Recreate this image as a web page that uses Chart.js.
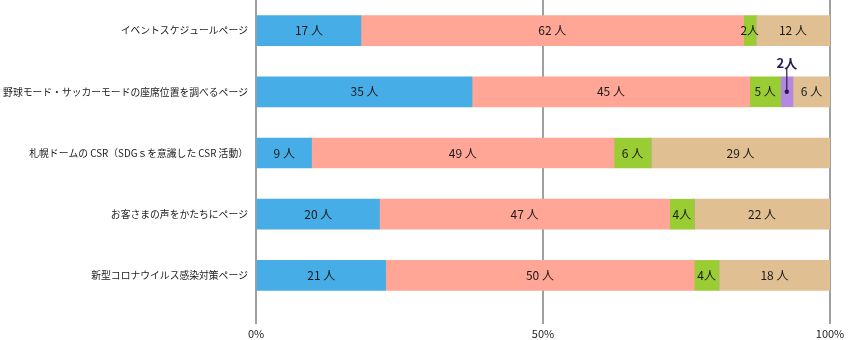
<!DOCTYPE html>
<html lang="ja">
<head>
<meta charset="utf-8">
<script src="https://cdn.jsdelivr.net/npm/chart.js@4"></script>
<style>
  html, body { margin: 0; padding: 0; background: #fff; }
  #wrap { width: 848px; height: 340px; }
</style>
</head>
<body>
<div id="wrap"><canvas id="chart"></canvas></div>
<script>
"use strict";

const PAGES = [
  "イベントスケジュールページ",
  "野球モード・サッカーモードの座席位置を調べるページ",
  "札幌ドームの CSR（SDGｓを意識した CSR 活動）",
  "お客さまの声をかたちにページ",
  "新型コロナウイルス感染対策ページ",
];

// respondent counts per segment, per page
const SEG_A = [17, 35, 9, 20, 21];
const SEG_B = [62, 45, 49, 47, 50];
const SEG_C = [2, 5, 6, 4, 4];
const SEG_D = [0, 2, 0, 0, 0];
const SEG_E = [12, 6, 29, 22, 18];

const X_TICKS = [0, 50, 100];

const COLORS = ["#46ade6", "#ffa696", "#9acc33", "#b388e0", "#e0c092"];
const FONT = "'Noto Sans CJK JP', 'Noto Sans', sans-serif";

const counts = [SEG_A, SEG_B, SEG_C, SEG_D, SEG_E];
const totals = PAGES.map((_, i) => counts.reduce((s, arr) => s + arr[i], 0));

const datasets = counts.map((arr, k) => ({
  data: arr.map((v, i) => v / totals[i] * 100),
  counts: arr,
  backgroundColor: COLORS[k],
  borderWidth: 0,
  barThickness: 30,
}));

// counts written inside each segment; tiny ones get a callout above the bar
const segLabels = {
  id: "segLabels",
  afterDatasetsDraw(chart) {
    const ctx = chart.ctx;
    ctx.save();
    ctx.textBaseline = "middle";
    ctx.textAlign = "center";
    chart.data.datasets.forEach((ds, k) => {
      const meta = chart.getDatasetMeta(k);
      meta.data.forEach((bar, i) => {
        const v = ds.counts[i];
        if (!v) return;
        const { x, y, base } = bar.getProps(["x", "y", "base"], true);
        const w = x - base;
        const cx = base + w / 2;
        if (w < 14 && k === 3) {
          ctx.strokeStyle = "#2a1a4a";
          ctx.fillStyle = "#2a1a4a";
          ctx.lineWidth = 1.2;
          ctx.beginPath();
          ctx.moveTo(cx, y - 23);
          ctx.lineTo(cx, y);
          ctx.stroke();
          ctx.beginPath();
          ctx.arc(cx, y, 2.2, 0, Math.PI * 2);
          ctx.fill();
          ctx.font = "bold 13px " + FONT;
          ctx.fillText(v + "人", cx, y - 29);
          return;
        }
        ctx.fillStyle = "#1a1a1a";
        ctx.font = "12px " + FONT;
        ctx.fillText(w < 30 ? v + "人" : v + " 人", cx, y);
      });
    });
    ctx.restore();
  },
};

new Chart(document.getElementById("chart"), {
  type: "bar",
  data: { labels: PAGES, datasets },
  options: {
    indexAxis: "y",
    responsive: true,
    maintainAspectRatio: false,
    animation: false,
    layout: { padding: { top: 0, right: 18, left: 0, bottom: 0 } },
    plugins: {
      legend: { display: false },
      tooltip: { enabled: false },
    },
    scales: {
      x: {
        stacked: true,
        min: 0,
        max: 100,
        afterBuildTicks(axis) {
          axis.ticks = X_TICKS.map(v => ({ value: v }));
        },
        afterFit(axis) { axis.height = 34; },
        border: { display: false },
        grid: { color: "#a0a0a0", lineWidth: 2, tickLength: 18, drawOnChartArea: true },
        ticks: {
          color: "#222",
          font: { family: FONT, size: 11 },
          padding: 3,
          maxRotation: 0,
          callback: v => v + "%",
        },
      },
      y: {
        stacked: true,
        afterFit(axis) {
          axis.width = 256;
          axis.paddingTop = 0;
          axis.paddingBottom = 0;
        },
        border: { display: false },
        grid: { display: false, drawTicks: false },
        ticks: {
          color: "#222",
          font: { family: FONT, size: 9.8 },
          padding: 8,
        },
      },
    },
  },
  plugins: [segLabels],
});
</script>
</body>
</html>
